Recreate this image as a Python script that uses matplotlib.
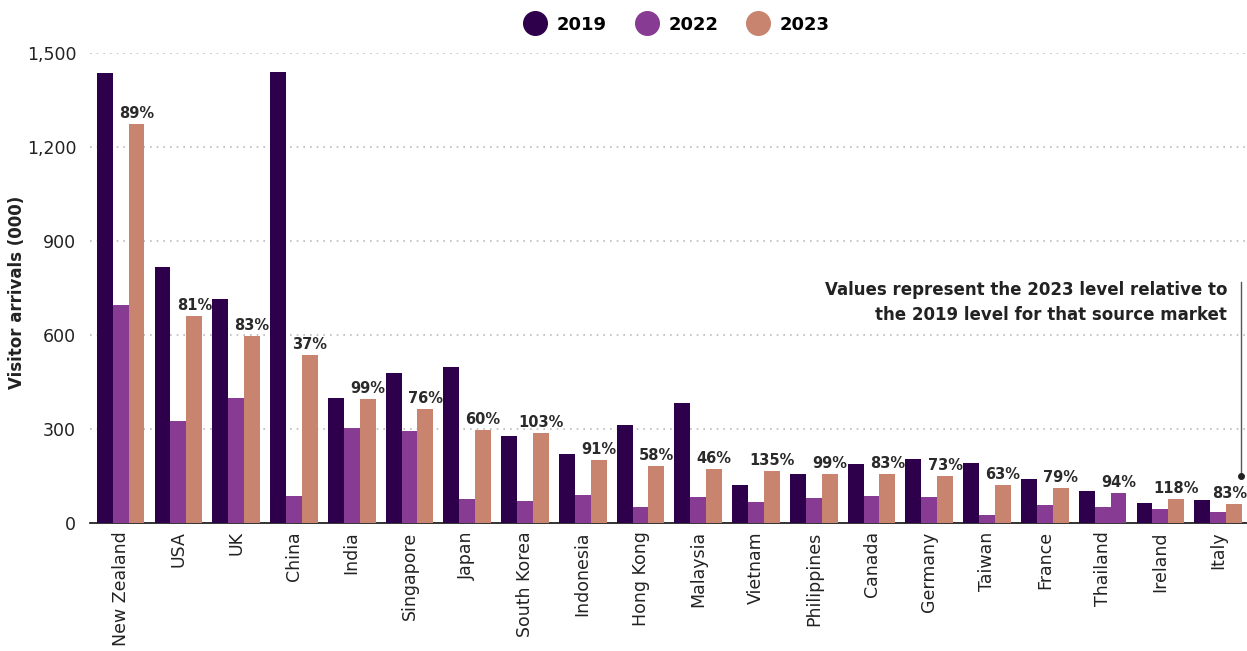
import matplotlib.pyplot as plt
from matplotlib.lines import Line2D
import numpy as np

markets = ['New Zealand', 'USA', 'UK', 'China', 'India', 'Singapore', 'Japan',
           'South Korea', 'Indonesia', 'Hong Kong', 'Malaysia', 'Vietnam',
           'Philippines', 'Canada', 'Germany', 'Taiwan', 'France', 'Thailand',
           'Ireland', 'Italy']
v2019 = [1436, 817, 715, 1440, 399, 479, 498, 278, 220, 313, 383, 121, 156,
         188, 204, 191, 140, 102, 64, 73]
v2022 = [696, 325, 399, 86, 303, 294, 77, 70, 89, 51, 83, 67, 80, 86, 83,
         26, 57, 51, 45, 35]
v2023 = [1274, 660, 597, 536, 396, 364, 297, 287, 201, 182, 172, 166, 156,
         156, 150, 121, 112, 96, 77, 61]
pct_labels = ['89%', '81%', '83%', '37%', '99%', '76%', '60%', '103%', '91%',
              '58%', '46%', '135%', '99%', '83%', '73%', '63%', '79%', '94%',
              '118%', '83%']

c19 = '#2e004b'
c22 = '#883b92'
c23 = '#c8846e'
txt = '#222222'

plt.rcParams['font.family'] = ['DejaVu Sans']

fig = plt.figure(figsize=(12.47, 6.51), dpi=100)
ax = fig.add_axes([0.0722, 0.1966, 0.9278, 0.722])

x = np.arange(len(markets))
w = 0.275
ax.bar(x - w, v2019, w, color=c19, zorder=3)
ax.bar(x, v2022, w, color=c22, zorder=3)
# the source colours Thailand's 2023 bar like 2022
cols23 = [c22 if m == 'Thailand' else c23 for m in markets]
ax.bar(x + w, v2023, w, color=cols23, zorder=3)

for xi, val, lab in zip(x, v2023, pct_labels):
    xt = xi + w
    if xi == len(markets) - 1:
        xt -= 0.08  # keep last label inside the frame
    ax.text(xt, val + 10, lab, ha='center', va='bottom', fontsize=10.5,
            fontweight='semibold', color='#2a2a2a', zorder=4)

ax.set_xlim(-0.53, 19.5)
ax.set_ylim(0, 1500)
ax.set_yticks([0, 300, 600, 900, 1200, 1500])
ax.set_yticklabels(['0', '300', '600', '900', '1,200', '1,500'])
ax.yaxis.grid(True, linestyle=(0, (1, 3)), color='#bbbbbb', lw=1.2, zorder=0)
ax.set_xticks(x)
ax.set_xticklabels(markets, rotation=90)
ax.tick_params(axis='both', length=0, labelsize=12.5, colors=txt)
ax.tick_params(axis='x', pad=6)
ax.tick_params(axis='y', pad=10)
for s in ['top', 'right', 'left']:
    ax.spines[s].set_visible(False)
ax.spines['bottom'].set_color('#111111')
ax.spines['bottom'].set_linewidth(1.2)
ax.set_ylabel('Visitor arrivals (000)', fontsize=12, color=txt,
              fontweight='semibold')
ax.yaxis.set_label_coords(-0.055, 0.49)

ax.text(19.16, 705, 'Values represent the 2023 level relative to\nthe 2019 level for that source market',
        ha='right', va='center', fontsize=12, fontweight='semibold', color=txt,
        linespacing=1.5)
ax.plot([19.39, 19.39], [150, 770], color='#555555', lw=1, clip_on=False, zorder=4)
ax.plot([19.39], [150], 'o', color='#222222', ms=4, clip_on=False, zorder=4)

handles = [Line2D([], [], marker='o', ls='', ms=17, color=c) for c in (c19, c22, c23)]
fig.legend(handles, ['2019', '2022', '2023'], loc='center', bbox_to_anchor=(0.54, 0.962),
           ncol=3, frameon=False, handletextpad=0.2, columnspacing=1.2,
           prop={'weight': 'semibold', 'size': 13})

fig.savefig('out.png', dpi=100)
